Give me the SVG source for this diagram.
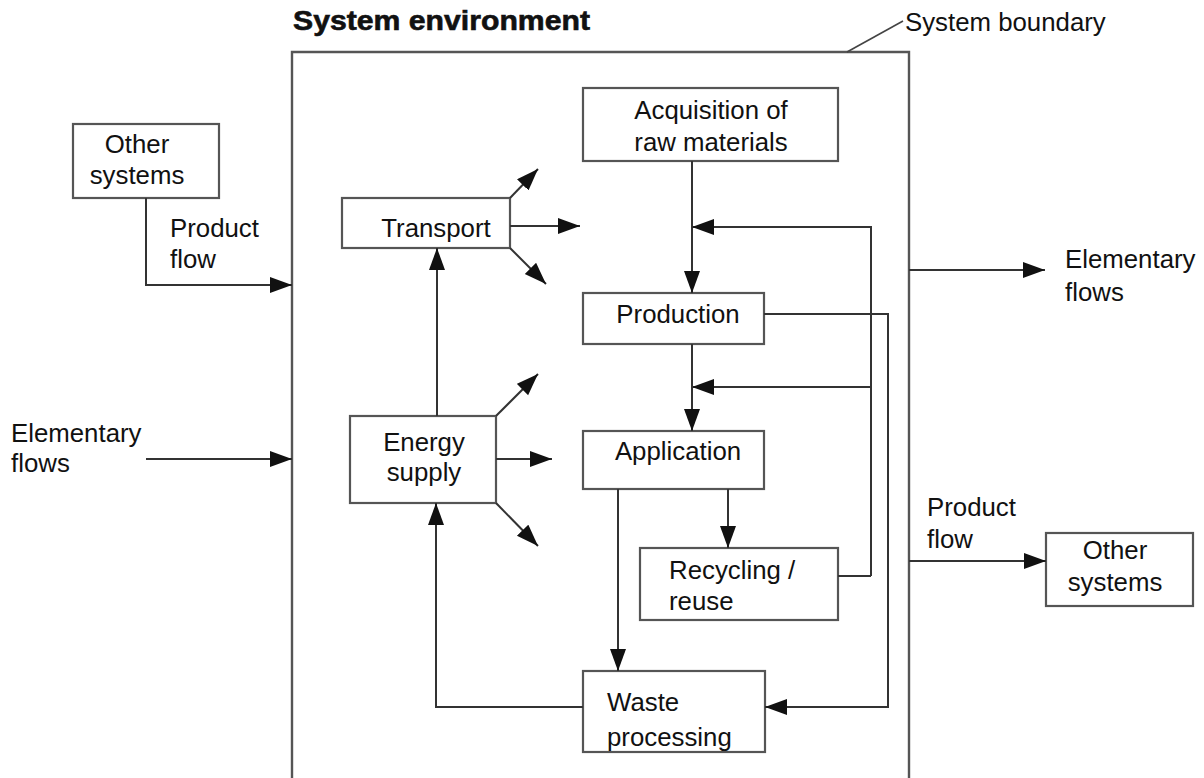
<svg xmlns="http://www.w3.org/2000/svg" width="1204" height="778" viewBox="0 0 1204 778">
  <style>
    .box { fill: #fff; stroke: #555; stroke-width: 2.2; }
    .ln { fill: none; stroke: #333; stroke-width: 2; }
    .lnt { fill: none; stroke: #444; stroke-width: 1.6; }
    .bnd { fill: none; stroke: #555; stroke-width: 2.4; }
    text { font-family: "Liberation Sans", Arial, sans-serif; font-size: 25.8px; fill: #111; }
    .c { text-anchor: middle; }
    .title { font-weight: bold; font-size: 27px; stroke: #111; stroke-width: 0.6; }
  </style>
  <defs>
    <marker id="ah" markerUnits="userSpaceOnUse" markerWidth="24" markerHeight="17" refX="22" refY="8" orient="auto">
      <path d="M0,0 L22,8 L0,16 Z" fill="#111"/>
    </marker>
  </defs>

  <rect width="1204" height="778" fill="#fff"/>

  <!-- environment title and system boundary -->
  <g id="environment">
    <text class="title" x="293" y="30" textLength="297" lengthAdjust="spacingAndGlyphs">System environment</text>
  </g>
  <g id="system-boundary">
    <path class="bnd" d="M292,790 L292,52 L909,52 L909,790"/>
    <line class="lnt" x1="847" y1="52" x2="903" y2="21"/>
    <text x="905" y="31">System boundary</text>
  </g>

  <!-- process boxes -->
  <g id="acquisition">
    <rect class="box" x="583" y="88" width="255" height="73"/>
    <text class="c" x="711" y="119">Acquisition of</text>
    <text class="c" x="711" y="151">raw materials</text>
  </g>
  <g id="production">
    <rect class="box" x="583" y="293" width="181" height="51"/>
    <text class="c" x="678" y="323">Production</text>
  </g>
  <g id="application">
    <rect class="box" x="583" y="431" width="181" height="58"/>
    <text class="c" x="678" y="460">Application</text>
  </g>
  <g id="recycling">
    <rect class="box" x="640" y="548" width="198" height="72"/>
    <text x="669" y="579">Recycling /</text>
    <text x="669" y="610">reuse</text>
  </g>
  <g id="waste">
    <rect class="box" x="583" y="671" width="182" height="81"/>
    <text x="607" y="711">Waste</text>
    <text x="607" y="746">processing</text>
  </g>
  <g id="transport">
    <rect class="box" x="342" y="198" width="168" height="50"/>
    <text class="c" x="436" y="237">Transport</text>
  </g>
  <g id="energy">
    <rect class="box" x="350" y="416" width="146" height="87"/>
    <text class="c" x="424" y="451">Energy</text>
    <text class="c" x="424" y="481">supply</text>
  </g>
  <g id="other-systems-in">
    <rect class="box" x="73" y="124" width="146" height="74"/>
    <text class="c" x="137" y="153">Other</text>
    <text class="c" x="137" y="184">systems</text>
  </g>
  <g id="other-systems-out">
    <rect class="box" x="1046" y="533" width="147" height="73"/>
    <text class="c" x="1115" y="559">Other</text>
    <text class="c" x="1115" y="591">systems</text>
  </g>

  <!-- flow labels -->
  <g id="labels">
    <text x="170" y="237">Product</text>
    <text x="170" y="268">flow</text>
    <text x="11" y="442">Elementary</text>
    <text x="11" y="472">flows</text>
    <text x="1065" y="268">Elementary</text>
    <text x="1065" y="301">flows</text>
    <text x="927" y="516">Product</text>
    <text x="927" y="548">flow</text>
  </g>

  <!-- connectors -->
  <g id="connectors">
    <path class="ln" d="M692,161 L692,293" marker-end="url(#ah)"/>
    <path class="ln" d="M871,576 L871,227 L692,227" marker-end="url(#ah)"/>
    <path class="ln" d="M838,576 L871,576"/>
    <path class="ln" d="M871,387 L692,387" marker-end="url(#ah)"/>
    <path class="ln" d="M692,344 L692,431" marker-end="url(#ah)"/>
    <path class="ln" d="M764,314 L888,314 L888,707 L765,707" marker-end="url(#ah)"/>
    <path class="ln" d="M728,489 L728,548" marker-end="url(#ah)"/>
    <path class="ln" d="M618,489 L618,671" marker-end="url(#ah)"/>
    <path class="ln" d="M583,707 L436,707 L436,503" marker-end="url(#ah)"/>
    <path class="ln" d="M437,416 L437,248" marker-end="url(#ah)"/>
    <path class="ln" d="M510,198 L538,169" marker-end="url(#ah)"/>
    <path class="ln" d="M510,226 L580,226" marker-end="url(#ah)"/>
    <path class="ln" d="M510,248 L546,284" marker-end="url(#ah)"/>
    <path class="ln" d="M496,416 L538,374" marker-end="url(#ah)"/>
    <path class="ln" d="M496,459 L552,459" marker-end="url(#ah)"/>
    <path class="ln" d="M496,503 L538,546" marker-end="url(#ah)"/>
    <path class="ln" d="M146,198 L146,285 L292,285" marker-end="url(#ah)"/>
    <path class="ln" d="M146,459 L292,459" marker-end="url(#ah)"/>
    <path class="ln" d="M909,270 L1045,270" marker-end="url(#ah)"/>
    <path class="ln" d="M909,561 L1046,561" marker-end="url(#ah)"/>
  </g>
</svg>
